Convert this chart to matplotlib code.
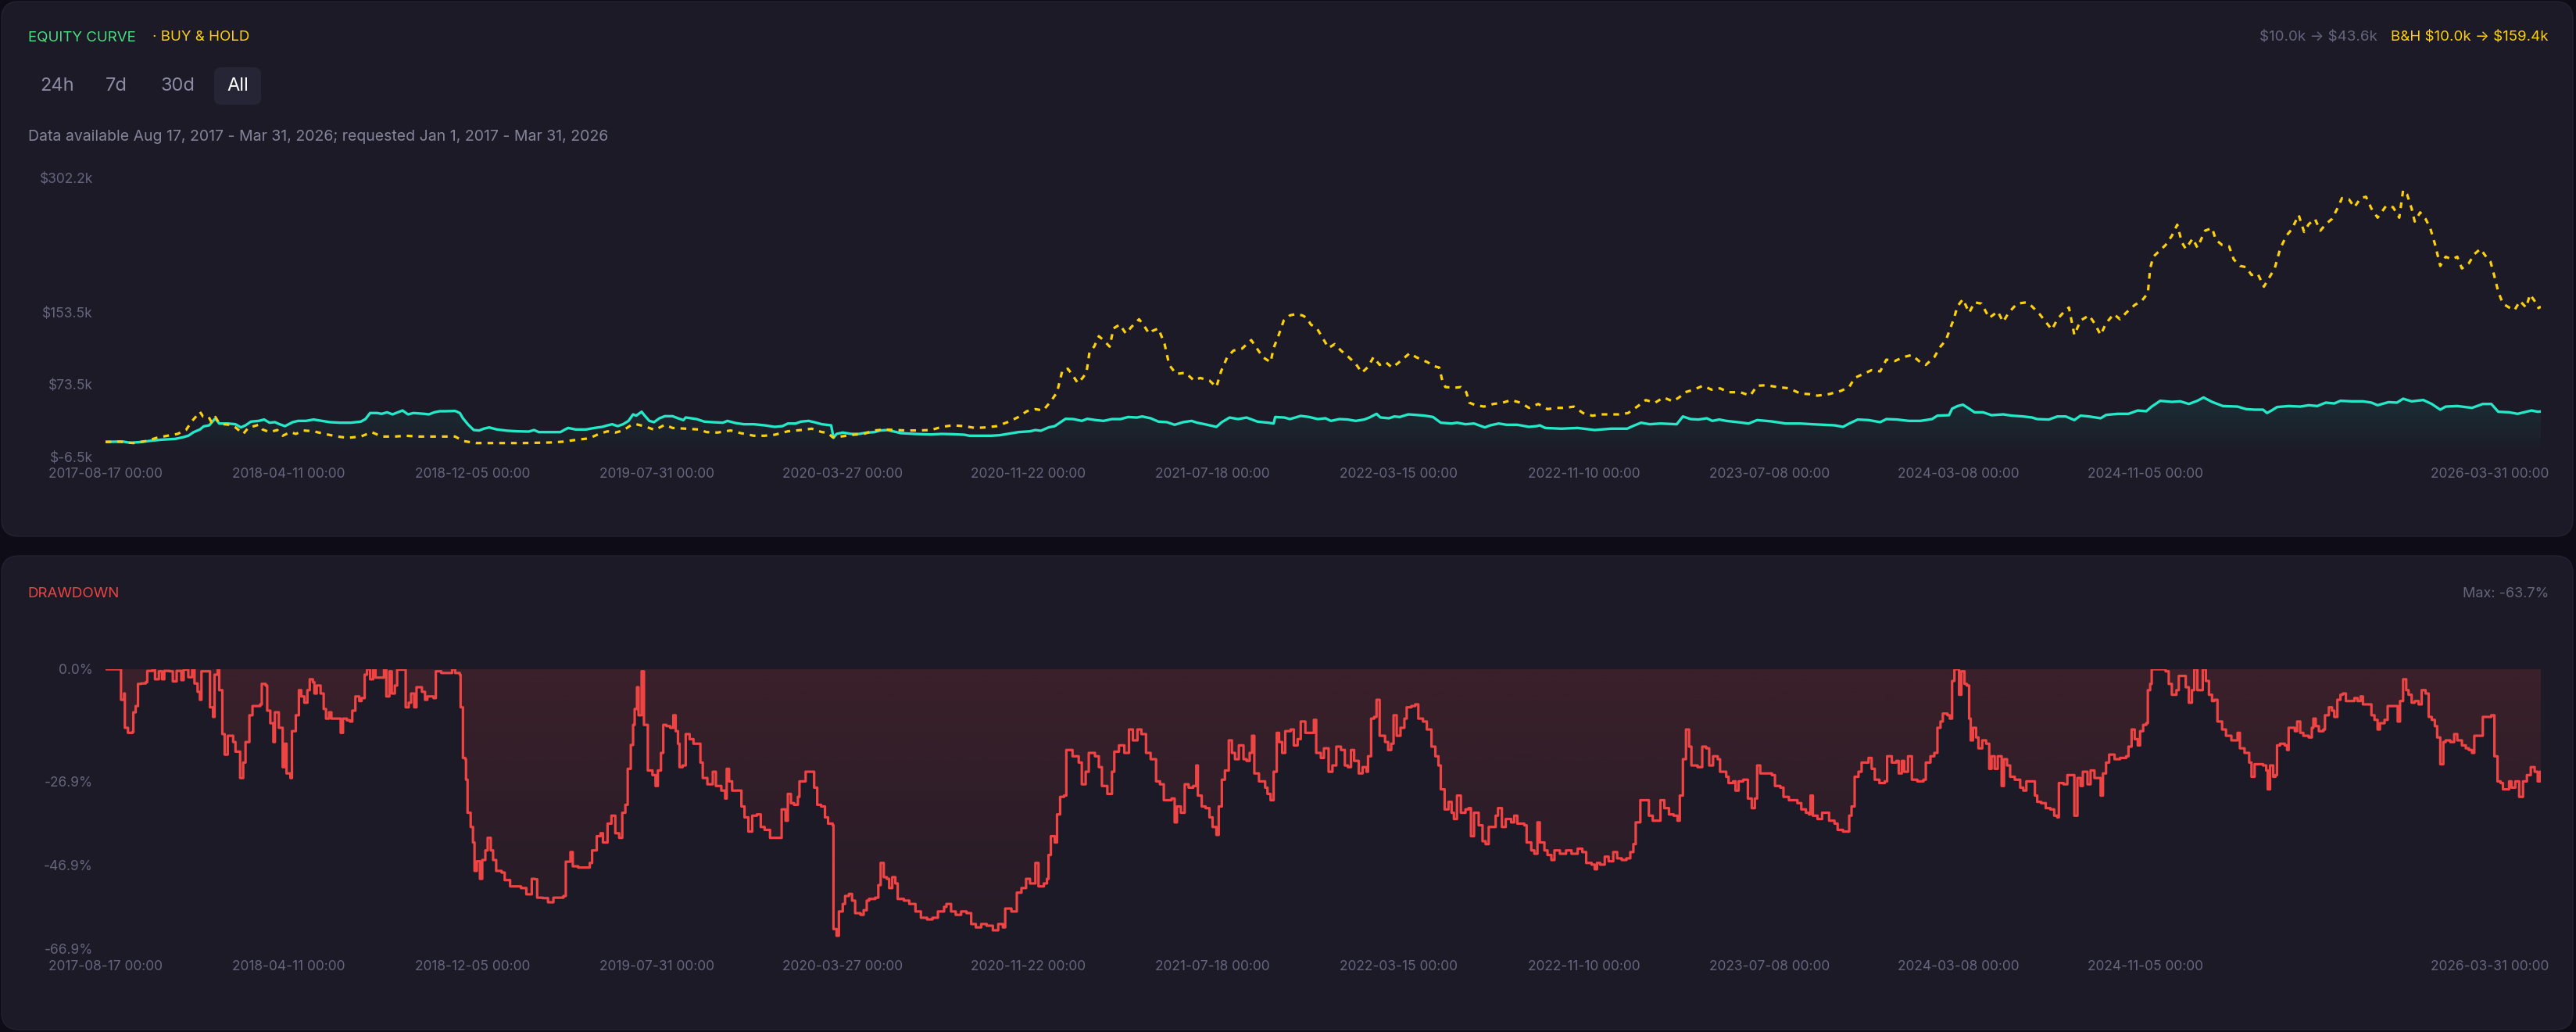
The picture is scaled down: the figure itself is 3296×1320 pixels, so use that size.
import numpy as np
import pandas as pd
import matplotlib
matplotlib.use("Agg")
import matplotlib.pyplot as plt
import matplotlib.colors as mcolors
from matplotlib.patches import FancyBboxPatch, PathPatch
from matplotlib.path import Path
from matplotlib.transforms import ScaledTranslation

plt.rcParams['font.family'] = ['Inter', 'DejaVu Sans']
plt.rcParams['text.parse_math'] = False   # dollar signs are literal here

# ---- data (x = days since 2017-08-17, values in $k / %) ----
START = pd.Timestamp("2017-08-17")

equity_pts = [
    (0, 10.0), (22, 10.4), (32, 9.0), (46, 9.9), (59, 11.3), (73, 12.5), (90, 13.3), (100, 15.1),
    (107, 16.8), (114, 20.8), (122, 23.7), (127, 27.2), (134, 28.3), (139, 33.2), (142, 36.1),
    (147, 30.3), (158, 30.3), (168, 29.5), (175, 26.0), (181, 28.3), (188, 32.4), (198, 33.2),
    (205, 34.7), (212, 31.2), (219, 31.8), (225, 29.5), (232, 27.4), (242, 31.8), (249, 33.2),
    (259, 33.2), (269, 34.7), (280, 33.2), (290, 31.8), (303, 31.2), (317, 31.2), (330, 32.4),
    (336, 35.2), (342, 41.9), (351, 41.9), (357, 41.0), (364, 42.7), (371, 40.4), (378, 42.7),
    (384, 44.7), (391, 40.4), (398, 41.9), (412, 41.0), (418, 40.4), (425, 42.7), (432, 43.9),
    (439, 43.9), (452, 44.2), (458, 41.9), (462, 36.1), (469, 28.9), (476, 23.1), (483, 22.6),
    (489, 24.6), (496, 26.0), (506, 23.7), (520, 22.3), (533, 21.7), (547, 21.4), (554, 23.1),
    (560, 20.8), (574, 20.8), (588, 20.8), (594, 23.7), (598, 25.4), (608, 23.7), (621, 23.7),
    (632, 25.4), (642, 26.6), (649, 28.3), (655, 29.5), (662, 27.4), (669, 29.5), (676, 33.2),
    (682, 40.4), (686, 39.0), (693, 43.3), (697, 39.0), (703, 33.2), (709, 31.8), (716, 36.1),
    (723, 38.4), (733, 38.4), (740, 36.1), (747, 34.1), (750, 37.0), (764, 35.2), (774, 32.4),
    (784, 31.8), (798, 31.2), (804, 33.2), (814, 30.9), (825, 29.5), (838, 29.5), (852, 28.3),
    (865, 26.6), (875, 27.4), (882, 30.3), (892, 30.3), (899, 32.4), (909, 33.2), (916, 31.8),
    (926, 29.5), (938, 28.3), (941, 14.5), (945, 18.8), (953, 20.3), (964, 18.8), (974, 18.8),
    (984, 20.3), (994, 20.8), (1001, 22.6), (1011, 23.1), (1018, 21.7), (1028, 19.7), (1046, 18.8),
    (1067, 18.2), (1081, 18.8), (1095, 18.5), (1110, 17.9), (1117, 16.8), (1131, 16.8), (1145, 16.8),
    (1156, 17.4), (1166, 18.8), (1180, 20.8), (1195, 21.7), (1202, 23.1), (1209, 22.3), (1219, 26.0),
    (1227, 27.4), (1241, 35.5), (1251, 35.2), (1262, 33.2), (1269, 35.5), (1280, 34.1), (1290, 33.2),
    (1301, 35.2), (1312, 35.2), (1322, 37.5), (1333, 36.9), (1340, 38.1), (1351, 36.1), (1361, 32.4),
    (1372, 31.8), (1382, 28.9), (1393, 31.8), (1404, 33.2), (1411, 31.2), (1421, 29.5), (1436, 26.6),
    (1443, 31.8), (1453, 36.9), (1464, 35.2), (1475, 36.9), (1482, 34.7), (1489, 32.4), (1503, 31.2),
    (1510, 30.3), (1512, 37.5), (1524, 36.9), (1531, 35.2), (1545, 38.7), (1556, 37.5), (1567, 35.2),
    (1577, 36.1), (1584, 33.2), (1595, 35.2), (1606, 34.7), (1616, 33.2), (1627, 34.7), (1634, 37.0),
    (1643, 41.0), (1648, 37.0), (1659, 36.1), (1666, 38.1), (1673, 37.5), (1684, 40.4), (1694, 39.8),
    (1705, 39.0), (1716, 37.5), (1726, 31.2), (1740, 30.3), (1747, 31.2), (1758, 29.5), (1769, 30.3),
    (1783, 26.0), (1790, 28.3), (1801, 30.3), (1811, 28.9), (1825, 28.9), (1840, 26.6), (1850, 27.4),
    (1854, 28.3), (1861, 25.4), (1882, 24.6), (1903, 25.4), (1925, 23.1), (1946, 24.6), (1967, 24.6),
    (1974, 27.4), (1985, 31.2), (1996, 29.5), (2010, 30.3), (2031, 29.5), (2039, 38.1), (2049, 35.2),
    (2059, 34.7), (2070, 36.1), (2077, 33.2), (2086, 34.7), (2095, 33.2), (2110, 31.8), (2124, 30.3),
    (2135, 34.1), (2154, 32.6), (2172, 30.3), (2191, 30.3), (2206, 29.5), (2220, 28.9), (2235, 28.3),
    (2246, 26.6), (2254, 30.3), (2265, 34.7), (2279, 34.1), (2294, 31.8), (2302, 35.2), (2316, 34.7),
    (2331, 33.2), (2346, 33.2), (2361, 35.2), (2368, 39.0), (2383, 39.5), (2387, 46.7), (2394, 49.6),
    (2401, 51.1), (2409, 46.7), (2416, 42.7), (2427, 42.7), (2438, 39.5), (2453, 40.4), (2464, 39.0),
    (2479, 38.1), (2490, 37.0), (2497, 35.2), (2512, 34.7), (2523, 38.1), (2534, 38.1), (2545, 34.1),
    (2553, 39.0), (2564, 38.1), (2579, 36.1), (2586, 39.8), (2601, 41.0), (2615, 41.0), (2627, 44.7),
    (2638, 43.9), (2645, 49.0), (2656, 55.4), (2671, 54.2), (2682, 54.8), (2693, 51.9), (2704, 55.4),
    (2712, 59.1), (2723, 54.2), (2737, 49.6), (2756, 49.0), (2767, 46.2), (2778, 45.6), (2789, 45.6),
    (2794, 41.9), (2800, 44.7), (2807, 48.5), (2822, 49.6), (2837, 49.0), (2848, 50.5), (2859, 49.6),
    (2870, 53.4), (2881, 52.5), (2889, 55.4), (2904, 54.8), (2918, 54.8), (2929, 53.4), (2937, 50.5),
    (2951, 53.9), (2962, 53.4), (2970, 57.7), (2981, 54.8), (2996, 56.3), (3007, 51.9), (3018, 45.6),
    (3025, 49.0), (3040, 49.6), (3059, 47.6), (3073, 51.9), (3084, 51.9), (3093, 43.3), (3107, 42.7),
    (3118, 41.0), (3129, 43.3), (3136, 44.7), (3144, 43.3), (3148, 43.6),
]

buyhold_pts = [
    (0, 10.0), (19, 10.2), (36, 8.7), (53, 11.0), (66, 14.5), (80, 16.8), (93, 18.8), (104, 23.1),
    (112, 33.2), (118, 39.0), (122, 43.3), (126, 38.1), (133, 38.1), (137, 31.8), (142, 37.5),
    (146, 31.8), (153, 29.5), (161, 28.9), (168, 26.0), (178, 18.8), (185, 26.0), (192, 27.4),
    (198, 28.9), (203, 23.7), (212, 20.8), (222, 23.1), (229, 16.8), (239, 20.8), (246, 18.8),
    (256, 22.6), (269, 21.7), (283, 18.8), (300, 15.9), (313, 14.5), (330, 15.9), (344, 20.8),
    (357, 15.9), (374, 15.9), (388, 16.8), (405, 15.9), (432, 15.9), (452, 15.9), (462, 11.0),
    (479, 8.7), (506, 8.7), (540, 8.7), (574, 9.3), (591, 10.2), (608, 12.2), (625, 13.9),
    (638, 18.8), (649, 21.7), (659, 20.3), (669, 22.6), (679, 28.3), (686, 29.5), (696, 27.4),
    (703, 25.4), (710, 23.1), (723, 28.9), (733, 25.4), (750, 24.6), (767, 23.7), (777, 20.8),
    (791, 20.3), (808, 22.6), (821, 19.7), (838, 16.8), (852, 16.8), (865, 17.9), (882, 21.7),
    (899, 23.1), (913, 24.6), (926, 20.8), (933, 20.3), (940, 15.1), (950, 15.9), (967, 17.9),
    (980, 18.8), (994, 22.6), (1007, 23.7), (1021, 23.1), (1035, 22.6), (1049, 22.6), (1067, 23.1),
    (1081, 26.6), (1095, 28.3), (1110, 27.4), (1124, 25.4), (1138, 26.0), (1152, 27.4), (1168, 32.4),
    (1180, 37.5), (1191, 43.9), (1202, 46.2), (1212, 44.7), (1222, 54.8), (1230, 64.9), (1237, 89.3),
    (1244, 90.8), (1249, 85.0), (1257, 74.9), (1263, 80.7), (1268, 86.5), (1272, 109.5), (1278, 115.3),
    (1284, 126.8), (1290, 122.5), (1298, 115.3), (1303, 135.4), (1311, 139.7), (1319, 129.7),
    (1326, 136.9), (1336, 145.5), (1342, 138.9), (1349, 129.7), (1353, 132.5), (1361, 135.4),
    (1369, 118.1), (1375, 95.1), (1384, 85.0), (1396, 86.5), (1407, 77.8), (1415, 80.7), (1427, 77.8),
    (1436, 70.6), (1442, 87.9), (1450, 103.7), (1458, 110.9), (1469, 113.0), (1481, 122.5),
    (1489, 112.4), (1496, 103.7), (1506, 98.0), (1510, 113.8), (1516, 126.8), (1523, 144.1),
    (1531, 149.8), (1539, 151.3), (1547, 149.8), (1553, 147.0), (1558, 139.7), (1566, 135.4),
    (1574, 123.9), (1581, 113.8), (1589, 118.1), (1597, 110.9), (1605, 105.2), (1616, 96.5),
    (1624, 86.5), (1632, 92.8), (1639, 103.7), (1647, 95.1), (1655, 98.0), (1663, 92.2), (1670, 96.5),
    (1678, 102.3), (1686, 108.1), (1694, 103.7), (1701, 100.9), (1709, 98.0), (1717, 93.7),
    (1724, 92.2), (1728, 77.8), (1732, 70.6), (1744, 69.8), (1752, 70.6), (1759, 64.9), (1763, 53.3),
    (1771, 50.5), (1782, 49.0), (1794, 51.9), (1806, 53.3), (1817, 56.2), (1829, 53.3), (1840, 47.6),
    (1852, 51.9), (1864, 46.2), (1875, 47.6), (1887, 47.6), (1898, 49.0), (1910, 41.8), (1922, 38.9),
    (1933, 40.4), (1945, 40.4), (1956, 40.4), (1968, 41.8), (1980, 49.0), (1991, 56.2), (2003, 53.3),
    (2014, 59.1), (2026, 54.8), (2034, 59.1), (2042, 64.9), (2053, 67.7), (2065, 72.1), (2076, 67.7),
    (2087, 69.2), (2098, 64.9), (2113, 64.9), (2126, 61.1), (2135, 72.1), (2147, 72.6), (2161, 70.6),
    (2176, 69.2), (2191, 63.4), (2202, 62.8), (2213, 61.1), (2228, 62.8), (2243, 66.3), (2254, 70.6),
    (2261, 80.7), (2272, 85.0), (2283, 89.3), (2294, 87.9), (2302, 100.9), (2313, 99.4),
    (2324, 103.7), (2335, 106.0), (2346, 98.0), (2353, 95.1), (2364, 103.7), (2372, 115.3),
    (2379, 122.5), (2384, 134.0), (2389, 145.5), (2394, 159.9), (2401, 167.7), (2409, 152.7),
    (2416, 164.2), (2425, 162.8), (2435, 147.0), (2446, 154.1), (2453, 142.6), (2460, 152.7),
    (2471, 162.8), (2483, 164.2), (2490, 159.9), (2500, 151.3), (2508, 142.6), (2516, 134.0),
    (2523, 145.5), (2532, 154.1), (2538, 158.5), (2545, 128.2), (2553, 144.1), (2564, 149.8),
    (2571, 141.2), (2579, 128.2), (2586, 141.2), (2596, 151.3), (2604, 145.5), (2612, 152.7),
    (2623, 161.3), (2632, 165.7), (2640, 174.3), (2643, 201.7), (2647, 214.6), (2656, 221.8),
    (2663, 227.6), (2671, 237.7), (2678, 250.0), (2684, 230.5), (2689, 223.3), (2698, 234.8),
    (2704, 224.7), (2714, 243.4), (2723, 246.3), (2728, 233.3), (2736, 227.6), (2745, 226.1),
    (2751, 211.7), (2759, 204.5), (2767, 203.1), (2774, 194.5), (2782, 195.9), (2790, 181.5),
    (2796, 190.1), (2804, 201.7), (2811, 223.3), (2819, 237.7), (2826, 244.9), (2835, 260.7),
    (2842, 242.0), (2848, 250.6), (2856, 256.4), (2863, 243.4), (2870, 250.6), (2878, 256.4),
    (2885, 267.9), (2891, 279.4), (2900, 278.0), (2907, 269.3), (2915, 279.4), (2922, 280.9),
    (2929, 267.9), (2937, 257.8), (2948, 270.8), (2957, 269.3), (2965, 257.8), (2970, 288.1),
    (2975, 283.7), (2981, 267.9), (2985, 253.5), (2992, 263.6), (2999, 256.4), (3005, 246.3),
    (3011, 229.0), (3018, 204.5), (3025, 214.6), (3033, 211.7), (3040, 214.6), (3046, 201.7),
    (3055, 207.4), (3062, 217.5), (3070, 223.3), (3076, 216.1), (3083, 208.9), (3088, 193.0),
    (3093, 175.7), (3099, 162.8), (3107, 158.5), (3114, 155.6), (3121, 165.7), (3129, 158.5),
    (3134, 172.9), (3140, 165.7), (3145, 157.9), (3148, 159.4),
]

drawdown_pts = [
    (0, 0), (18, 0), (20, -7.3), (24, -5.8), (25, -14.0), (29, -15.2), (35, -15.0), (36, -10.3),
    (39, -8.8), (42, -3.5), (46, -3.4), (52, -3.1), (54, -0.4), (61, 0), (64, -2.4), (69, -0.5),
    (73, -2.4), (76, -0.4), (83, -0.5), (87, -2.9), (92, -0.4), (98, -2.6), (101, -0.1), (107, -1.9),
    (112, 0), (115, -3.4), (119, -5.4), (122, -7.3), (124, -0.5), (133, -0.5), (135, -9.1),
    (139, -11.4), (141, -1.3), (145, 0), (147, -5.0), (151, -15.5), (154, -20.4), (158, -15.9),
    (161, -15.9), (165, -17.4), (168, -19.7), (174, -26.0), (178, -22.3), (181, -17.4), (186, -11.0),
    (190, -8.8), (200, -8.4), (202, -3.5), (207, -3.9), (209, -9.9), (213, -12.9), (217, -17.4),
    (219, -10.3), (224, -14.0), (227, -14.0), (229, -23.4), (232, -17.8), (234, -24.9), (239, -26.0),
    (241, -14.8), (246, -11.0), (250, -5.0), (253, -6.5), (257, -8.0), (261, -5.0), (264, -2.4),
    (268, -3.1), (270, -5.8), (273, -3.9), (278, -5.8), (282, -9.5), (285, -11.8), (289, -10.3),
    (292, -11.8), (299, -11.8), (304, -15.2), (307, -11.8), (312, -12.2), (316, -12.5), (319, -9.9),
    (323, -6.5), (328, -7.6), (331, -6.9), (335, -1.3), (338, 0), (342, -2.4), (346, -0.1),
    (349, -2.0), (356, -2.0), (360, 0), (363, -6.5), (367, -0.5), (370, -5.8), (374, -3.9),
    (377, -0.1), (385, 0), (388, -9.1), (392, -8.0), (395, -5.8), (399, -9.1), (402, -4.3),
    (406, -4.3), (409, -5.4), (413, -7.3), (416, -6.5), (424, -6.9), (427, -0.5), (434, -0.9),
    (441, -0.9), (448, 0), (452, -0.9), (458, -1.3), (459, -9.1), (462, -21.2), (465, -21.5),
    (466, -26.4), (468, -34.3), (472, -37.7), (475, -41.4), (477, -48.2), (480, -45.9), (484, -50.1),
    (487, -45.6), (491, -43.3), (494, -40.3), (498, -43.3), (501, -45.6), (505, -48.2), (512, -48.6),
    (516, -50.4), (523, -51.9), (537, -52.3), (544, -53.8), (551, -50.1), (555, -50.2), (558, -54.6),
    (565, -54.7), (572, -55.7), (579, -54.6), (587, -54.6), (592, -54.2), (595, -46.0), (601, -43.7),
    (604, -47.1), (611, -47.4), (618, -47.4), (626, -46.3), (629, -43.3), (635, -39.9), (640, -39.2),
    (643, -41.4), (649, -36.9), (654, -35.0), (659, -39.2), (664, -40.3), (668, -34.3), (672, -32.4),
    (675, -23.8), (679, -18.1), (682, -13.3), (684, -9.5), (687, -4.3), (689, -11.0), (693, -0.5),
    (696, -13.3), (700, -13.3), (701, -24.2), (707, -25.3), (711, -27.9), (714, -24.2), (718, -20.0),
    (721, -13.3), (725, -13.6), (730, -14.0), (734, -11.0), (737, -14.8), (740, -17.8), (742, -23.4),
    (746, -23.0), (750, -15.5), (755, -16.7), (760, -17.8), (765, -17.8), (769, -22.3), (772, -26.0),
    (778, -27.5), (785, -24.5), (789, -27.9), (796, -29.0), (801, -30.9), (803, -23.8), (806, -26.8),
    (810, -29.0), (817, -29.0), (822, -32.8), (826, -35.4), (831, -38.8), (836, -35.0), (842, -34.7),
    (847, -37.7), (852, -38.4), (859, -40.3), (870, -40.3), (874, -33.5), (879, -36.2), (882, -29.8),
    (886, -32.0), (890, -32.4), (895, -30.5), (897, -26.8), (902, -26.8), (905, -24.5), (911, -24.5),
    (916, -28.3), (920, -32.4), (925, -32.8), (930, -35.4), (934, -36.9), (940, -37.3), (941, -62.1),
    (945, -63.7), (948, -57.9), (953, -56.1), (956, -54.2), (961, -53.7), (965, -55.3), (969, -58.3),
    (976, -58.7), (980, -57.6), (984, -55.3), (987, -54.9), (995, -54.6), (999, -51.6), (1002, -46.3),
    (1006, -49.7), (1010, -50.1), (1013, -52.3), (1017, -49.7), (1021, -51.2), (1024, -54.9),
    (1032, -55.3), (1039, -56.1), (1047, -57.9), (1054, -59.4), (1062, -59.8), (1069, -59.4),
    (1076, -57.9), (1084, -56.8), (1087, -56.1), (1093, -57.9), (1099, -58.7), (1106, -57.9),
    (1113, -58.3), (1119, -60.9), (1125, -61.7), (1132, -60.9), (1139, -61.3), (1147, -62.4),
    (1154, -60.9), (1160, -61.7), (1163, -57.2), (1171, -57.9), (1178, -53.4), (1184, -52.3),
    (1190, -50.1), (1195, -51.2), (1202, -46.3), (1206, -51.9), (1213, -51.2), (1217, -50.1),
    (1219, -44.4), (1222, -39.9), (1227, -41.4), (1230, -34.7), (1234, -30.5), (1239, -30.2),
    (1242, -19.3), (1250, -20.8), (1258, -22.3), (1262, -27.5), (1267, -24.5), (1271, -20.0),
    (1279, -20.8), (1284, -23.4), (1288, -27.9), (1295, -29.8), (1301, -24.5), (1304, -19.7),
    (1310, -18.2), (1317, -20.0), (1323, -14.4), (1328, -17.0), (1334, -14.4), (1339, -15.5),
    (1345, -20.0), (1351, -21.5), (1358, -26.8), (1363, -27.5), (1368, -31.3), (1373, -31.3),
    (1378, -30.9), (1382, -36.6), (1385, -32.8), (1390, -34.3), (1395, -27.5), (1400, -28.3),
    (1406, -27.9), (1410, -23.0), (1412, -30.2), (1417, -32.8), (1422, -33.2), (1427, -35.4),
    (1431, -37.7), (1436, -39.6), (1439, -32.8), (1443, -26.4), (1447, -24.2), (1452, -17.0),
    (1456, -20.0), (1460, -21.5), (1465, -18.2), (1471, -21.5), (1475, -21.9), (1479, -20.0),
    (1482, -15.9), (1485, -24.9), (1491, -26.8), (1499, -28.3), (1502, -29.8), (1506, -31.3),
    (1510, -24.5), (1514, -15.2), (1517, -17.4), (1521, -20.0), (1525, -14.8), (1532, -14.4),
    (1536, -18.2), (1541, -16.7), (1545, -12.5), (1551, -15.2), (1558, -15.2), (1562, -12.1),
    (1565, -20.0), (1571, -21.2), (1575, -18.9), (1581, -24.5), (1586, -23.0), (1591, -18.5),
    (1597, -19.3), (1602, -23.0), (1606, -23.4), (1610, -19.3), (1614, -21.9), (1620, -24.9),
    (1625, -23.4), (1630, -24.5), (1632, -20.8), (1636, -11.8), (1640, -11.4), (1643, -7.3),
    (1647, -15.9), (1654, -17.4), (1658, -19.3), (1662, -17.8), (1665, -11.0), (1669, -15.9),
    (1674, -14.0), (1679, -11.8), (1682, -9.1), (1688, -8.8), (1693, -8.4), (1697, -11.8),
    (1703, -12.5), (1708, -14.4), (1714, -18.5), (1719, -20.8), (1723, -23.0), (1726, -28.7),
    (1731, -33.5), (1736, -31.7), (1740, -34.3), (1743, -35.8), (1747, -30.2), (1752, -34.3),
    (1758, -33.5), (1762, -33.2), (1765, -39.9), (1769, -34.3), (1775, -37.3), (1780, -41.1),
    (1784, -41.8), (1788, -37.7), (1793, -37.7), (1797, -35.0), (1800, -33.2), (1805, -37.7),
    (1810, -35.8), (1817, -36.6), (1821, -35.0), (1825, -36.9), (1834, -37.3), (1837, -41.4),
    (1843, -43.3), (1847, -44.1), (1851, -36.6), (1854, -41.4), (1860, -43.3), (1864, -44.4),
    (1869, -45.6), (1873, -43.3), (1880, -44.1), (1888, -43.3), (1895, -44.1), (1903, -42.9),
    (1909, -43.7), (1914, -46.3), (1921, -46.7), (1925, -47.8), (1928, -46.3), (1932, -46.7),
    (1938, -44.8), (1943, -45.9), (1949, -43.7), (1954, -45.2), (1960, -45.6), (1966, -45.2),
    (1971, -43.7), (1975, -41.8), (1978, -36.6), (1984, -31.3), (1990, -31.3), (1995, -35.0),
    (2000, -36.2), (2006, -36.2), (2010, -31.3), (2015, -33.2), (2021, -34.7), (2027, -35.0),
    (2032, -36.2), (2035, -30.2), (2039, -21.5), (2043, -14.4), (2047, -18.5), (2050, -23.0),
    (2058, -23.4), (2064, -18.5), (2069, -18.9), (2073, -23.0), (2078, -20.8), (2084, -21.5),
    (2087, -24.5), (2091, -24.5), (2095, -25.7), (2098, -27.2), (2104, -26.8), (2107, -29.0),
    (2111, -26.8), (2117, -26.4), (2123, -30.9), (2128, -33.2), (2132, -30.9), (2135, -23.0),
    (2139, -24.9), (2146, -24.9), (2154, -25.3), (2158, -27.9), (2165, -28.3), (2169, -30.5),
    (2176, -31.3), (2182, -31.3), (2187, -32.0), (2192, -33.5), (2198, -34.3), (2202, -34.7),
    (2204, -30.2), (2207, -35.0), (2213, -35.8), (2219, -34.3), (2224, -34.3), (2228, -36.2),
    (2235, -36.9), (2239, -38.4), (2246, -38.8), (2251, -38.8), (2254, -35.0), (2257, -32.8),
    (2261, -25.7), (2266, -24.5), (2270, -22.3), (2276, -22.3), (2279, -21.2), (2283, -23.8),
    (2287, -26.4), (2293, -27.2), (2300, -26.8), (2303, -20.8), (2309, -22.3), (2315, -21.9),
    (2318, -24.9), (2322, -21.9), (2325, -24.5), (2330, -20.8), (2335, -26.4), (2342, -26.8),
    (2350, -26.4), (2353, -22.3), (2359, -20.8), (2364, -20.0), (2368, -14.0), (2372, -12.5),
    (2375, -10.6), (2381, -11.0), (2384, -11.8), (2387, -2.8), (2390, 0), (2394, 0), (2396, -6.1),
    (2399, -0.5), (2403, -3.5), (2406, -3.9), (2409, -11.8), (2411, -17.0), (2414, -14.0),
    (2418, -16.3), (2421, -18.9), (2426, -17.0), (2431, -17.8), (2435, -23.8), (2438, -20.8),
    (2442, -23.8), (2446, -20.8), (2451, -27.9), (2454, -21.5), (2458, -23.0), (2462, -25.7),
    (2468, -26.4), (2475, -28.3), (2479, -29.0), (2483, -26.8), (2490, -26.8), (2494, -30.2),
    (2497, -31.7), (2502, -32.0), (2508, -33.2), (2514, -33.5), (2519, -35.0), (2523, -35.4),
    (2525, -27.2), (2531, -27.5), (2536, -25.3), (2542, -25.3), (2545, -35.0), (2549, -26.0),
    (2553, -27.9), (2556, -24.5), (2562, -27.5), (2566, -24.2), (2571, -26.0), (2579, -30.2),
    (2582, -24.9), (2586, -22.3), (2590, -20.4), (2593, -20.4), (2597, -21.5), (2604, -21.2),
    (2612, -20.8), (2615, -18.5), (2619, -14.4), (2623, -16.7), (2627, -18.2), (2630, -14.8),
    (2634, -13.3), (2638, -12.9), (2640, -5.0), (2643, -3.5), (2645, 0), (2652, 0), (2660, 0),
    (2663, -0.5), (2667, -3.5), (2671, -6.1), (2677, -5.0), (2680, -1.6), (2686, -1.6), (2689, -4.3),
    (2693, -8.0), (2697, -5.0), (2700, 0), (2704, -5.0), (2708, -5.0), (2711, 0), (2715, -2.8),
    (2719, -6.1), (2723, -7.6), (2726, -7.3), (2730, -12.5), (2736, -14.4), (2741, -15.9),
    (2748, -17.0), (2756, -15.2), (2759, -18.9), (2765, -20.0), (2771, -22.3), (2774, -25.7),
    (2778, -22.7), (2785, -22.7), (2789, -23.0), (2793, -24.2), (2795, -28.7), (2798, -23.0),
    (2802, -25.7), (2805, -25.3), (2807, -18.2), (2811, -17.8), (2817, -18.2), (2820, -19.3),
    (2822, -14.0), (2826, -14.0), (2830, -14.8), (2833, -12.5), (2837, -15.2), (2841, -15.9),
    (2848, -16.3), (2852, -14.0), (2854, -11.8), (2857, -13.6), (2861, -14.8), (2867, -14.4),
    (2869, -11.0), (2874, -9.1), (2878, -9.9), (2881, -11.4), (2885, -7.3), (2889, -6.1),
    (2892, -5.8), (2896, -7.6), (2904, -7.6), (2907, -6.9), (2911, -7.6), (2915, -6.5), (2918, -8.4),
    (2926, -8.4), (2929, -11.0), (2933, -12.1), (2937, -14.4), (2940, -12.9), (2946, -12.1),
    (2950, -8.8), (2959, -8.8), (2963, -12.5), (2966, -7.6), (2970, -2.4), (2974, -5.0),
    (2977, -6.1), (2981, -8.0), (2985, -7.6), (2990, -8.4), (2994, -5.0), (2999, -5.8),
    (3003, -11.4), (3007, -12.1), (3011, -13.6), (3014, -16.3), (3018, -22.7), (3022, -17.4),
    (3025, -17.0), (3031, -17.4), (3036, -15.5), (3040, -17.0), (3046, -18.2), (3051, -18.9),
    (3055, -19.3), (3059, -20.0), (3062, -15.9), (3068, -15.9), (3073, -11.4), (3084, -11.0),
    (3088, -20.8), (3092, -26.8), (3096, -27.2), (3099, -28.7), (3107, -26.8), (3110, -28.3),
    (3115, -26.8), (3120, -30.5), (3125, -26.8), (3130, -25.3), (3135, -23.4), (3140, -24.5),
    (3144, -26.8), (3147, -24.5), (3148, -26.0),
]

tick_dates = ["2017-08-17", "2018-04-11", "2018-12-05", "2019-07-31", "2020-03-27",
              "2020-11-22", "2021-07-18", "2022-03-15", "2022-11-10", "2023-07-08",
              "2024-03-08", "2024-11-05", "2026-03-31"]
equity_yticks = [-6.5, 73.5, 153.5, 302.2]
dd_yticks = [-66.9, -46.9, -26.9, 0.0]
ranges = ["24h", "7d", "30d", "All"]

eq_x, eq_y = np.array(equity_pts).T
bh_x, bh_y = np.array(buyhold_pts).T
dd_x, dd_y = np.array(drawdown_pts).T
tick_x = [(pd.Timestamp(d) - START).days for d in tick_dates]
x_end = tick_x[-1]

# ---- colours ----
BG = "#0e0d17"
CARD = "#1b1a26"
TEAL = "#26e8c8"
GOLD = "#fcd00f"
RED = "#ef4444"
GREEN = "#4ade80"
MUTED = "#66657d"

W, H = 3296, 1320
fig = plt.figure(figsize=(W / 100, H / 100), dpi=100)
fig.patch.set_facecolor(BG)

# background layer in pixel units for the cards and header text
bg = fig.add_axes([0, 0, 1, 1])
bg.set_xlim(0, W)
bg.set_ylim(H, 0)
bg.axis("off")
for (y0, h) in [(2, 684), (711, 606)]:
    bg.add_patch(FancyBboxPatch((2, y0), W - 6, h, boxstyle="round,pad=0,rounding_size=22",
                                fc=CARD, ec="#23222f", lw=1))
bg.add_patch(FancyBboxPatch((274, 86), 60, 48, boxstyle="round,pad=0,rounding_size=9",
                            fc="#262535", ec="none"))

bg.text(36, 48, "EQUITY CURVE", color=GREEN, fontsize=13.5, va="center", ha="left")
bg.text(195, 48, "· BUY & HOLD", color=GOLD, fontsize=13.5, va="center", ha="left")
for label, cx in zip(ranges, [73, 149, 227, 304]):
    bg.text(cx, 110, label, color="white" if label == "All" else "#8c8ba3",
            fontsize=17, va="center", ha="center")
bg.text(36, 175, "Data available Aug 17, 2017 - Mar 31, 2026; requested Jan 1, 2017 - Mar 31, 2026",
        color="#85849a", fontsize=14, va="center", ha="left")
bg.text(3261, 48, f"B&H ${bh_y[0]:.1f}k → ${bh_y[-1]:.1f}k", color=GOLD, fontsize=13.5,
        va="center", ha="right")
bg.text(3042, 48, f"${eq_y[0]:.1f}k → ${eq_y[-1]:.1f}k", color=MUTED, fontsize=13.5,
        va="center", ha="right")
bg.text(35, 759, "DRAWDOWN", color=RED, fontsize=13.5, va="center", ha="left")
bg.text(3261, 759, f"Max: {dd_y.min():.1f}%", color=MUTED, fontsize=13, va="center", ha="right")


def gradient_fill(ax, x, y, base, color, a_top, a_bot, y_top, y_bot, step=None):
    coll = ax.fill_between(x, y, base, step=step, facecolor="none", edgecolor="none")
    path = Path.make_compound_path(*coll.get_paths())
    clip = PathPatch(path, transform=ax.transData, facecolor="none", edgecolor="none")
    ax.add_patch(clip)
    rgba = np.ones((256, 1, 4))
    rgba[..., :3] = mcolors.to_rgb(color)
    rgba[:, 0, 3] = np.linspace(a_top, a_bot, 256)
    im = ax.imshow(rgba, aspect="auto", extent=[x[0], x[-1], y_bot, y_top],
                   origin="upper", interpolation="bilinear", zorder=1)
    im.set_clip_path(clip)


def style_axes(ax):
    ax.set_facecolor("none")
    for s in ax.spines.values():
        s.set_visible(False)
    ax.tick_params(axis="both", length=0, labelsize=12.5, labelcolor=MUTED)
    ax.tick_params(axis="y", pad=11.5)
    ax.tick_params(axis="x", pad=10)
    ax.set_xticks(tick_x)
    ax.set_xticklabels([f"{d} 00:00" for d in tick_dates])
    last = ax.get_xticklabels()[-1]
    last.set_horizontalalignment("right")
    last.set_transform(last.get_transform() + ScaledTranslation(0.10, 0, fig.dpi_scale_trans))


left = 135 / W
width = (3251 - 135) / W

# ---- equity curve ----
ax1 = fig.add_axes([left, (H - 584.3) / H, width, (584.3 - 227) / H])
gradient_fill(ax1, eq_x, eq_y, -6.5, TEAL, 0.10, 0.0, 60, -6.5)
ax1.plot(eq_x, eq_y, color=TEAL, lw=2.4, zorder=3)
ax1.plot(bh_x, bh_y, color=GOLD, lw=2.3, ls=(0, (2.3, 2.4)), zorder=4)
ax1.set_xlim(0, x_end)
ax1.set_ylim(equity_yticks[0], equity_yticks[-1])
ax1.set_yticks(equity_yticks)
ax1.set_yticklabels([f"${v:.1f}k" for v in equity_yticks])
style_axes(ax1)

# ---- drawdown ----
ax2 = fig.add_axes([left, (H - 1214) / H, width, (1214 - 856) / H])
gradient_fill(ax2, dd_x, dd_y, 0, RED, 0.15, 0.04, 0, dd_yticks[0], step="post")
ax2.plot(dd_x, dd_y, color=RED, lw=2.3, drawstyle="steps-post", zorder=3)
ax2.set_xlim(0, x_end)
ax2.set_ylim(dd_yticks[0], 0)
ax2.set_yticks(dd_yticks)
ax2.set_yticklabels([f"{v:.1f}%" for v in dd_yticks])
style_axes(ax2)

fig.savefig("out.png", dpi=100, facecolor=BG)
